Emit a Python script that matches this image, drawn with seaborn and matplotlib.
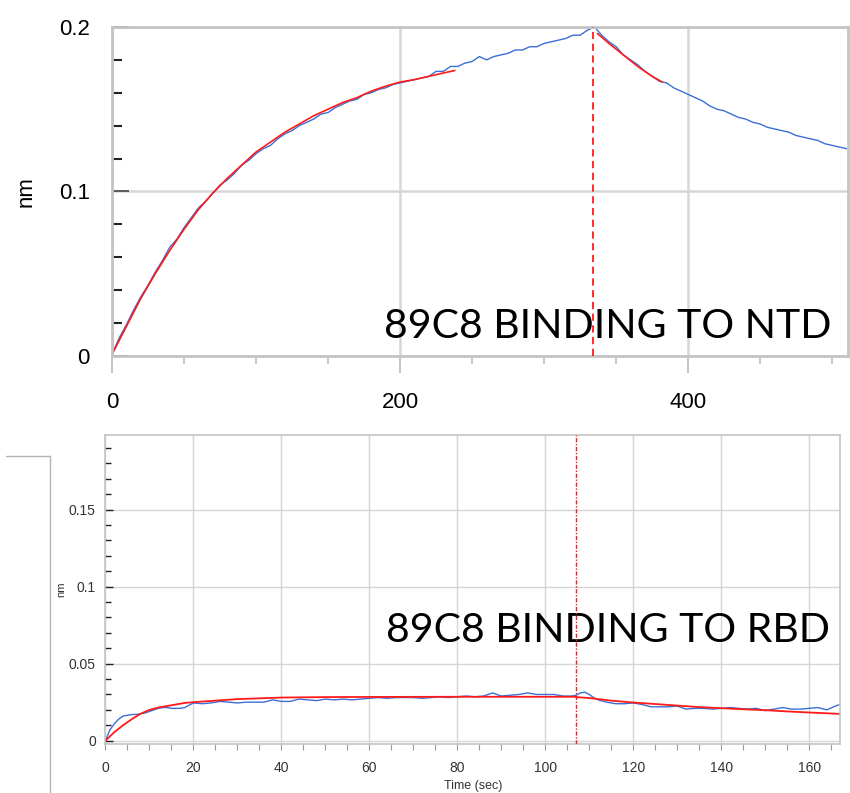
import numpy as np
import pandas as pd
import matplotlib
matplotlib.use("Agg")
import matplotlib.pyplot as plt
import seaborn as sns
from matplotlib.lines import Line2D
from matplotlib.ticker import MultipleLocator

sns.set_style("white")
plt.rcParams["font.family"] = ["Liberation Sans", "DejaVu Sans"]
plt.rcParams["text.color"] = "black"
plt.rcParams["axes.labelcolor"] = "black"

# ---- NTD panel (top) ----
ntd_time = [0, 5, 10, 15, 20, 25, 30, 35, 40, 45, 50, 55, 60, 65, 70, 75, 80, 85, 90, 95,
            100, 105, 110, 115, 120, 125, 130, 135, 140, 145, 150, 155, 160, 165, 170, 175,
            180, 185, 190, 195, 200, 205, 210, 215, 220, 225, 230, 235, 240, 245, 250, 255,
            260, 265, 270, 275, 280, 285, 290, 295, 300, 305, 310, 315, 320, 325, 330, 335,
            340, 345, 350, 355, 360, 365, 370, 375, 380, 385, 390, 395, 400, 405, 410, 415,
            420, 425, 430, 435, 440, 445, 450, 455, 460, 465, 470, 475, 480, 485, 490, 495,
            500, 505, 510]
ntd_signal = [0.001, 0.011, 0.019, 0.028, 0.036, 0.043, 0.051, 0.058, 0.066, 0.071,
              0.078, 0.084, 0.090, 0.094, 0.099, 0.104, 0.107, 0.111, 0.116, 0.119,
              0.123, 0.126, 0.128, 0.132, 0.135, 0.137, 0.140, 0.142, 0.144, 0.147,
              0.148, 0.151, 0.153, 0.155, 0.156, 0.159, 0.160, 0.162, 0.163, 0.165,
              0.166, 0.167, 0.168, 0.169, 0.170, 0.173, 0.173, 0.176, 0.176, 0.178,
              0.179, 0.182, 0.180, 0.182, 0.183, 0.184, 0.186, 0.186, 0.188, 0.188,
              0.190, 0.191, 0.192, 0.193, 0.195, 0.195, 0.198, 0.200, 0.195, 0.191,
              0.188, 0.183, 0.180, 0.177, 0.173, 0.170, 0.167, 0.166, 0.163, 0.161,
              0.159, 0.157, 0.155, 0.152, 0.150, 0.149, 0.147, 0.145, 0.144, 0.142,
              0.141, 0.139, 0.138, 0.137, 0.136, 0.134, 0.133, 0.132, 0.131, 0.129,
              0.128, 0.127, 0.126]
ntd_fit_assoc_time = [0, 10, 20, 30, 40, 50, 60, 70, 80, 90, 100, 110, 120, 130, 140, 150,
                      160, 170, 180, 190, 200, 210, 220, 230, 238]
ntd_fit_assoc = [0.001, 0.018, 0.035, 0.050, 0.064, 0.077, 0.089, 0.099, 0.108, 0.116,
                 0.124, 0.130, 0.136, 0.141, 0.146, 0.150, 0.154, 0.157, 0.161, 0.164,
                 0.1665, 0.168, 0.170, 0.172, 0.1735]
ntd_fit_dissoc_time = [337, 345, 355, 365, 375, 382]
ntd_fit_dissoc = [0.196, 0.190, 0.183, 0.176, 0.170, 0.1665]
ntd_switch = 334

# ---- RBD panel (bottom) ----
rbd_time = [0, 1, 2, 3, 4, 5, 6, 7, 8, 9, 10, 11, 12, 13, 14, 15, 16, 17, 18, 19, 20,
            22, 24, 26, 28, 30, 32, 34, 36, 38, 40, 42, 44, 46, 48, 50, 52, 54, 56, 58,
            60, 62, 64, 66, 68, 70, 72, 74, 76, 78, 80, 82, 84, 86, 88, 90, 92, 94, 96,
            98, 100, 102, 104, 106, 107, 108, 109, 110, 111, 112, 114, 116, 118, 120,
            122, 124, 126, 128, 130, 132, 134, 136, 138, 140, 142, 144, 146, 148, 150,
            152, 154, 156, 158, 160, 162, 164, 166, 167]
rbd_signal = [0.000, 0.007, 0.011, 0.014, 0.016, 0.0165, 0.017, 0.017, 0.0175, 0.018,
              0.019, 0.020, 0.021, 0.0215, 0.0215, 0.021, 0.021, 0.021, 0.0215, 0.023,
              0.0245, 0.024, 0.0245, 0.0255, 0.025, 0.0245, 0.025, 0.025, 0.025, 0.0265,
              0.0255, 0.0255, 0.027, 0.0265, 0.026, 0.027, 0.0265, 0.027, 0.0265, 0.027,
              0.0275, 0.028, 0.0275, 0.028, 0.028, 0.028, 0.0275, 0.028, 0.0285, 0.028,
              0.0285, 0.029, 0.0285, 0.029, 0.031, 0.029, 0.0295, 0.030, 0.031, 0.030,
              0.030, 0.030, 0.029, 0.029, 0.0295, 0.031, 0.0315, 0.030, 0.028, 0.0265,
              0.025, 0.024, 0.024, 0.0245, 0.0235, 0.022, 0.022, 0.022, 0.0225, 0.0205,
              0.021, 0.021, 0.0205, 0.021, 0.0215, 0.021, 0.0205, 0.021, 0.0195, 0.0205,
              0.0215, 0.0205, 0.0205, 0.021, 0.0215, 0.020, 0.0225, 0.0235]
rbd_fit_assoc_time = [0, 2, 4, 6, 8, 10, 12, 14, 16, 18, 20, 25, 30, 35, 40, 50, 60, 80, 107]
rbd_fit_assoc = [0.0, 0.0055, 0.010, 0.014, 0.0175, 0.020, 0.0215, 0.0225, 0.0235, 0.0245,
                 0.025, 0.026, 0.027, 0.0275, 0.028, 0.0283, 0.0284, 0.0285, 0.0285]
rbd_fit_dissoc_time = [107, 110, 115, 120, 125, 130, 135, 140, 145, 150, 155, 160, 167]
rbd_fit_dissoc = [0.0283, 0.0277, 0.0260, 0.0248, 0.0238, 0.0228, 0.0218, 0.0211,
                  0.0204, 0.0198, 0.0190, 0.0183, 0.0174]
rbd_switch = 107

blue = "#3b6fd6"
red = "#ff1a1a"
grid_c = "#d6d6d6"
frame_c = "#c4c4c4"

fig = plt.figure(figsize=(8.5, 7.93), dpi=100)
ax1 = fig.add_axes([0.1318, 0.5511, 0.8659, 0.4149])
ax2 = fig.add_axes([0.1241, 0.0618, 0.8641, 0.3897])


def draw(ax, t, y, color, lw):
    sns.lineplot(x=t, y=y, ax=ax, color=color, lw=lw, sort=False,
                 estimator=None, errorbar=None, legend=False)


fmt = plt.FuncFormatter(lambda v, p: f"{v:g}")

# top panel
draw(ax1, ntd_time, ntd_signal, blue, 1.0)
draw(ax1, ntd_fit_assoc_time, ntd_fit_assoc, red, 1.2)
draw(ax1, ntd_fit_dissoc_time, ntd_fit_dissoc, red, 1.2)
ax1.axvline(ntd_switch, color=red, lw=1.3, ls=(0, (4, 2.5)), zorder=3)
ax1.set_xlim(0, 511)
ax1.set_ylim(0, 0.2)
ax1.xaxis.set_major_locator(MultipleLocator(200))
ax1.xaxis.set_minor_locator(MultipleLocator(50))
ax1.yaxis.set_major_locator(MultipleLocator(0.1))
ax1.yaxis.set_minor_locator(MultipleLocator(0.02))
ax1.yaxis.set_major_formatter(fmt)
ax1.grid(True, which="major", color=grid_c, lw=1.8)
ax1.tick_params(axis="x", which="major", bottom=True, direction="out", length=12,
                width=1.2, color="#bbbbbb", pad=14, labelsize=16, labelcolor="black")
ax1.tick_params(axis="x", which="minor", bottom=True, direction="out", length=6,
                width=1.2, color="#bbbbbb")
ax1.tick_params(axis="y", which="major", left=True, direction="in", length=12,
                width=1.2, color="#444444", pad=16, labelsize=16, labelcolor="black")
ax1.tick_params(axis="y", which="minor", left=True, direction="in", length=7,
                width=1.5, color="#222222")
ax1.set_ylabel("nm", fontsize=16, labelpad=16)
ax1.set_xlabel("")
for s in ax1.spines.values():
    s.set_color(frame_c)
    s.set_linewidth(2)
ax1.text(0.978, 0.055, "89C8 BINDING TO NTD", transform=ax1.transAxes,
         ha="right", va="baseline", fontsize=29.5, family=["Lato", "DejaVu Sans"],
         color="black", zorder=2)

# bottom panel
draw(ax2, rbd_time, rbd_signal, blue, 1.0)
draw(ax2, rbd_fit_assoc_time, rbd_fit_assoc, red, 1.3)
draw(ax2, rbd_fit_dissoc_time, rbd_fit_dissoc, red, 1.3)
ax2.axvline(rbd_switch, color=red, lw=1.0, ls=(0, (3, 1.2, 1, 1.2)), zorder=3)
ax2.set_xlim(0, 167)
ax2.set_ylim(-0.00215, 0.1985)
ax2.xaxis.set_major_locator(MultipleLocator(20))
ax2.xaxis.set_minor_locator(MultipleLocator(5))
ax2.yaxis.set_major_locator(MultipleLocator(0.05))
ax2.yaxis.set_minor_locator(MultipleLocator(0.01))
ax2.yaxis.set_major_formatter(fmt)
ax2.grid(True, which="major", color=grid_c, lw=1.0)
ax2.tick_params(axis="x", which="both", bottom=True, direction="out", length=4.5,
                width=0.8, color="#999999", pad=8, labelsize=10, labelcolor="#333333")
ax2.tick_params(axis="y", which="major", left=True, direction="in", length=6,
                width=1.0, color="#222222", pad=7, labelsize=10, labelcolor="#333333")
ax2.tick_params(axis="y", which="minor", left=True, direction="in", length=4,
                width=1.0, color="#222222")
ax2.set_xlabel("Time (sec)", fontsize=9, labelpad=3, color="#333333")
ax2.set_ylabel("nm", fontsize=8, labelpad=2, color="#333333")
for s in ax2.spines.values():
    s.set_color(frame_c)
    s.set_linewidth(1.2)
ax2.text(0.986, 0.331, "89C8 BINDING TO RBD", transform=ax2.transAxes,
         ha="right", va="baseline", fontsize=29.5, family=["Lato", "DejaVu Sans"],
         color="black", zorder=2)

# stray frame edge at the left of the lower panel
fig.add_artist(Line2D([6 / 850, 50 / 850], [1 - 456 / 793, 1 - 456 / 793],
                      transform=fig.transFigure, color="#b5b5b5", lw=1))
fig.add_artist(Line2D([50 / 850, 50 / 850], [1 - 456 / 793, 0],
                      transform=fig.transFigure, color="#b5b5b5", lw=1))

fig.savefig("out.png", dpi=100)
